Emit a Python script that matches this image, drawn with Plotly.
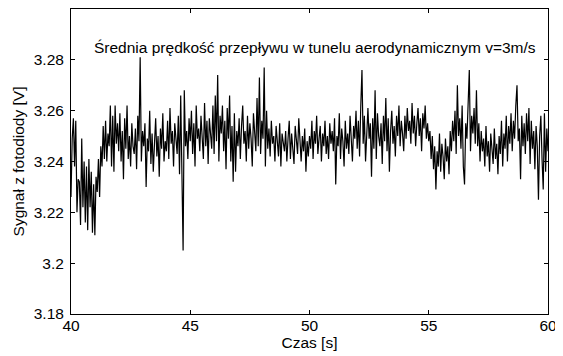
import plotly.graph_objects as go
import numpy as np

# Sampling of the signal
t_start = 40.0
dt = 0.05

# Photodiode signal [V], one row per second (20 samples / s)
signal_v = [
    # 40 s
    3.226, 3.249, 3.257, 3.238, 3.256, 3.220, 3.233, 3.232, 3.215, 3.249, 3.222, 3.240, 3.216, 3.238, 3.213, 3.241, 3.222, 3.236, 3.212, 3.231,
    # 41 s
    3.211, 3.234, 3.228, 3.241, 3.226, 3.246, 3.238, 3.254, 3.241, 3.256, 3.240, 3.251, 3.246, 3.262, 3.238, 3.258, 3.236, 3.262, 3.247, 3.255,
    # 42 s
    3.244, 3.259, 3.240, 3.252, 3.233, 3.257, 3.245, 3.262, 3.241, 3.250, 3.238, 3.255, 3.246, 3.243, 3.253, 3.237, 3.258, 3.248, 3.281, 3.240,
    # 43 s
    3.252, 3.246, 3.255, 3.230, 3.249, 3.244, 3.260, 3.239, 3.251, 3.236, 3.247, 3.257, 3.242, 3.250, 3.234, 3.253, 3.245, 3.259, 3.240, 3.248,
    # 44 s
    3.244, 3.256, 3.241, 3.261, 3.247, 3.252, 3.238, 3.255, 3.249, 3.243, 3.258, 3.235, 3.266, 3.236, 3.205, 3.268, 3.246, 3.252, 3.241, 3.257,
    # 45 s
    3.248, 3.260, 3.243, 3.255, 3.238, 3.262, 3.249, 3.253, 3.244, 3.258, 3.250, 3.241, 3.263, 3.246, 3.256, 3.239, 3.257, 3.251, 3.245, 3.262,
    # 46 s
    3.243, 3.266, 3.248, 3.274, 3.240, 3.258, 3.251, 3.262, 3.244, 3.256, 3.237, 3.261, 3.249, 3.266, 3.240, 3.254, 3.232, 3.259, 3.236, 3.252,
    # 47 s
    3.246, 3.257, 3.241, 3.254, 3.262, 3.247, 3.252, 3.240, 3.258, 3.245, 3.255, 3.249, 3.238, 3.259, 3.251, 3.244, 3.265, 3.246, 3.273, 3.243,
    # 48 s
    3.256, 3.249, 3.277, 3.238, 3.260, 3.245, 3.253, 3.242, 3.256, 3.247, 3.250, 3.240, 3.254, 3.246, 3.242, 3.255, 3.238, 3.251, 3.247, 3.244,
    # 49 s
    3.252, 3.240, 3.249, 3.256, 3.241, 3.251, 3.245, 3.239, 3.254, 3.248, 3.243, 3.257, 3.246, 3.240, 3.250, 3.244, 3.253, 3.236, 3.248, 3.242,
    # 50 s
    3.250, 3.245, 3.256, 3.241, 3.252, 3.247, 3.258, 3.243, 3.249, 3.254, 3.240, 3.251, 3.246, 3.256, 3.243, 3.250, 3.241, 3.255, 3.247, 3.252,
    # 51 s
    3.244, 3.257, 3.231, 3.250, 3.246, 3.259, 3.241, 3.253, 3.248, 3.238, 3.256, 3.245, 3.251, 3.243, 3.258, 3.247, 3.240, 3.254, 3.249, 3.260,
    # 52 s
    3.245, 3.256, 3.242, 3.262, 3.276, 3.247, 3.258, 3.240, 3.253, 3.261, 3.249, 3.255, 3.234, 3.257, 3.245, 3.268, 3.241, 3.259, 3.250, 3.246,
    # 53 s
    3.255, 3.239, 3.258, 3.248, 3.265, 3.244, 3.257, 3.236, 3.252, 3.260, 3.247, 3.254, 3.242, 3.258, 3.250, 3.262, 3.246, 3.256, 3.251, 3.244,
    # 54 s
    3.258, 3.249, 3.261, 3.252, 3.256, 3.247, 3.263, 3.251, 3.258, 3.246, 3.255, 3.261, 3.250, 3.257, 3.244, 3.259, 3.253, 3.262, 3.249, 3.255,
    # 55 s
    3.248, 3.252, 3.241, 3.250, 3.237, 3.246, 3.229, 3.244, 3.238, 3.251, 3.236, 3.247, 3.242, 3.233, 3.249, 3.240, 3.246, 3.235, 3.252, 3.244,
    # 56 s
    3.256, 3.248, 3.260, 3.243, 3.270, 3.250, 3.257, 3.245, 3.262, 3.238, 3.231, 3.255, 3.249, 3.264, 3.276, 3.244, 3.258, 3.251, 3.261, 3.247,
    # 57 s
    3.268, 3.246, 3.255, 3.240, 3.252, 3.244, 3.249, 3.238, 3.254, 3.242, 3.248, 3.236, 3.251, 3.245, 3.239, 3.253, 3.241, 3.247, 3.235, 3.250,
    # 58 s
    3.243, 3.256, 3.238, 3.251, 3.245, 3.258, 3.240, 3.254, 3.247, 3.259, 3.244, 3.256, 3.249, 3.262, 3.270, 3.248, 3.253, 3.233, 3.258, 3.246,
    # 59 s
    3.255, 3.243, 3.259, 3.248, 3.261, 3.239, 3.256, 3.245, 3.252, 3.237, 3.254, 3.246, 3.225, 3.250, 3.258, 3.241, 3.229, 3.259, 3.236, 3.253,
    # 60 s
    3.244,
]

x_ticks = [40, 45, 50, 55, 60]
x_tick_labels = ["40", "45", "50", "55", "60"]
y_ticks = [3.18, 3.20, 3.22, 3.24, 3.26, 3.28]
y_tick_labels = ["3.18", "3.2", "3.22", "3.24", "3.26", "3.28"]

title_text = "Średnia prędkość przepływu w tunelu aerodynamicznym v=3m/s"
x_label = "Czas [s]"
y_label = "Sygnał z fotodiody [V]"

time_s = t_start + dt * np.arange(len(signal_v))

font_family = "Liberation Sans, Arial, sans-serif"
fs = 15.5

fig = go.Figure()
fig.add_trace(go.Scatter(
    x=time_s, y=signal_v, mode="lines",
    line=dict(color="black", width=1.2),
    showlegend=False, hoverinfo="skip",
))

axis_common = dict(
    showgrid=False, zeroline=False,
    showline=True, linecolor="black", linewidth=1,
    mirror="allticks", ticks="inside", ticklen=4, tickcolor="black",
    tickfont=dict(family=font_family, size=fs, color="black"),
)

fig.update_xaxes(
    range=[40, 60], tickvals=x_ticks, ticktext=x_tick_labels,
    ticklabelstandoff=-3,
    title=dict(text=x_label, font=dict(family=font_family, size=fs, color="black"), standoff=2),
    **axis_common,
)
fig.update_yaxes(
    range=[3.18, 3.30], tickvals=y_ticks, ticktext=y_tick_labels,
    ticklabelstandoff=3,
    title=dict(text=y_label, font=dict(family=font_family, size=fs, color="black"), standoff=5),
    **axis_common,
)

fig.add_annotation(
    x=50.25, y=3.2847, xref="x", yref="y", text=title_text, showarrow=False,
    font=dict(family=font_family, size=fs, color="black"),
)

# The page body has an 8 px default margin, so the figure is 8 px smaller
fig.update_layout(
    width=555, height=348,
    margin=dict(l=63, r=15, t=1, b=42),
    paper_bgcolor="white", plot_bgcolor="white",
    font=dict(family=font_family, size=fs, color="black"),
)

fig.write_html("out.html")
